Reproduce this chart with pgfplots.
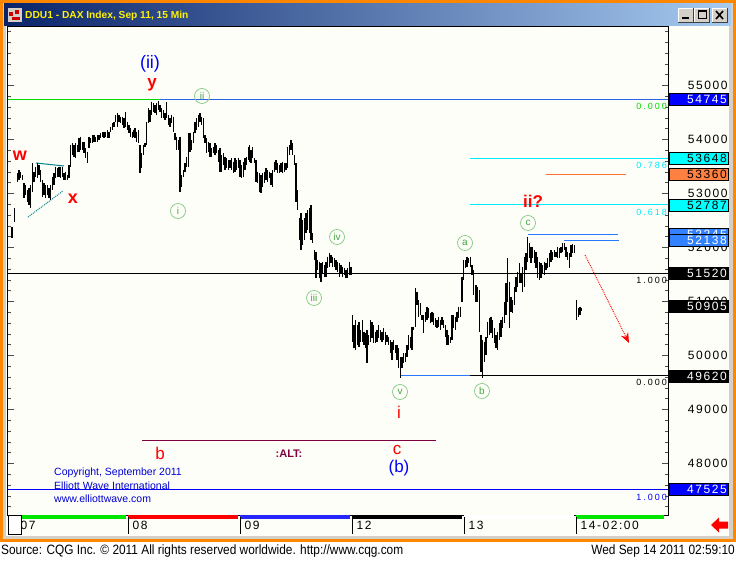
\documentclass[border=0pt]{standalone}
\usepackage{pgfplots}
\pgfplotsset{compat=1.18}
\usepackage{pgfplotstable}
\usepackage{fontspec}
\usetikzlibrary{arrows.meta}
\setmainfont{Liberation Sans}
\newfontfamily\pfont[LetterSpace=13]{Liberation Sans}
\newfontfamily\ffont[LetterSpace=22]{Liberation Sans}
\newfontfamily\nfont[FakeStretch=0.88]{Liberation Sans}

\definecolor{plotbg}{RGB}{254,254,248}
\definecolor{frameorange}{RGB}{255,135,0}
\definecolor{wingray}{RGB}{212,208,200}
\definecolor{tbdark}{RGB}{10,36,106}
\definecolor{tblight}{RGB}{166,202,240}
\definecolor{fibcyan}{RGB}{0,235,255}
\definecolor{boxcyan}{RGB}{0,255,255}
\definecolor{lvlblue}{RGB}{40,120,255}
\definecolor{topblue}{RGB}{40,100,230}
\definecolor{boxblue}{RGB}{50,130,255}
\definecolor{lvlorange}{RGB}{255,110,50}
\definecolor{boxorange}{RGB}{255,128,64}
\definecolor{wavegreen}{RGB}{70,165,70}
\definecolor{circgreen}{RGB}{130,200,130}
\definecolor{altmaroon}{RGB}{128,0,64}
\definecolor{cpblue}{RGB}{0,0,210}
\definecolor{triteal}{RGB}{0,130,140}
\definecolor{fibgreen}{RGB}{0,220,0}

% 15 min bars: time position, high, low
\pgfplotstableread{
x hi lo
12 52386 52170
14.7 52725 52478
17.3 53373 53219
19 53435 53250
20.7 53404 53281
22.3 53343 53250
24 53188 52910
25.7 53157 52972
27.3 53065 52849
29 53096 52787
30.7 53157 52725
32.3 53559 53034
34 53404 53219
35.7 53497 53312
37.3 53559 53281
39 53528 53343
40.7 53435 53219
42.3 53250 52941
44 53188 52972
45.7 53157 52910
47.3 53157 52972
49 53096 52910
50.7 53157 52880
52.3 53312 53065
54 53373 53157
55.7 53497 53281
57.3 53466 53312
59 53497 53312
60.7 53497 53281
62.3 53497 53312
64 53373 53250
65.7 53404 53250
67.3 53343 53250
69 53528 53281
70.7 53898 53497
72.3 53929 53713
74 53898 53682
75.7 53929 53651
77.3 53898 53775
79 54022 53775
80.7 54052 53805
82.3 53960 53805
84 53960 53744
85.7 53836 53651
87.3 53775 53559
89 54052 53836
90.7 54022 53929
92.3 54083 53929
94 54083 53960
95.7 54052 53960
97.3 54083 53960
99 54083 53991
100.7 54114 54022
102.3 54145 54052
104 54145 54022
105.7 54145 54052
107.3 54176 54022
109 54145 54022
110.7 54238 54145
112.3 54299 54176
114 54330 54238
115.7 54454 54330
117.3 54485 54238
119 54454 54330
120.7 54423 54299
122.3 54423 54268
124 54392 54207
125.7 54515 54238
127.3 54330 54176
129 54268 54114
130.7 54207 54052
132.3 54145 54022
133.3 54176 54052
135 54207 54022
136.7 54145 53960
138.3 54176 53929
140 53898 53373
141.7 53744 53466
143.3 53898 53713
145 53929 53867
146.7 54330 53898
148.3 54577 54299
150 54546 54330
151.7 54701 54454
153.3 54670 54515
155 54639 54485
156.7 54670 54454
158.3 54713 54546
160 54639 54515
161.7 54577 54392
163.3 54546 54392
165 54485 54361
166.7 54688 54392
168.3 54454 54268
170 54392 54238
171.7 54454 54299
173.3 54423 54145
175 54114 53991
176.7 54052 53805
178.3 53991 53805
180 54052 53034
181.7 53343 53126
183.3 53435 53312
185 53559 53404
186.7 53682 53497
188.3 54114 53497
190 54114 53775
191.7 53991 53805
193.3 54145 53929
195 54330 54114
196.7 54392 54176
198.3 54454 54238
200 54485 54330
201.7 54423 54268
203.3 54392 54022
205 54083 53929
206.7 54022 53744
208.3 53960 53775
210 53929 53682
211.7 53836 53682
213.3 53867 53744
215 53929 53713
216.7 53898 53744
218.3 53805 53590
220 53836 53404
221.7 53713 53404
223.3 53744 53528
225 53682 53435
226.7 53651 53466
228.3 53620 53435
230 53620 53466
231.7 53651 53435
233.3 53590 53373
235 53651 53404
236.7 53620 53435
238.3 53651 53466
240 53620 53312
241.7 53528 53281
243.3 53590 53312
245 53651 53435
246.7 53682 53528
248.3 53867 53620
249.3 53897 53589
251 53805 53558
252.7 53866 53650
254.3 53650 53558
256 53619 53218
257.7 53403 53187
259.3 53373 53033
261 53342 53002
262.7 53373 53126
264.3 53403 53187
266 53465 53249
267.7 53434 53218
269.3 53403 53280
271 53373 53156
272.7 53434 53126
274.3 53589 53403
276 53619 53434
277.7 53558 53373
279.3 53527 53373
281 53558 53403
282.7 53589 53373
284.3 53558 53403
286 53558 53434
287.7 53866 53465
289.3 53897 53712
291 53990 53805
292.7 53928 53712
294.3 53712 53527
296 53558 52848
297.7 53064 52694
299.3 52539 52138
301 52632 51953
302.7 52508 52045
304.3 52539 52138
306 52632 52261
307.7 52694 52323
309.3 52724 52261
311 52786 52138
312.7 52261 52076
314.3 51953 51768
316 51922 51428
317.7 51768 51582
319.3 51737 51428
321 51706 51366
322.7 51737 51521
324.3 51675 51459
326 51737 51459
327.7 51829 51613
329.3 51891 51644
331 51860 51706
332.7 51829 51644
334.3 51798 51644
336 51768 51582
337.7 51737 51552
339.3 51706 51459
341 51675 51521
342.7 51644 51459
344.3 51613 51490
346 51582 51428
347.7 51613 51428
349.3 51737 51490
351 51644 51490
352.3 50749 50255
354 50564 50132
355.7 50657 50101
357.3 50564 50194
359 50626 50163
360.7 50472 50255
362.3 50657 50255
364 50441 50194
365.7 50410 50132
367 50472 49854
368.7 50379 50194
370.3 50657 50255
372 50626 50317
373.7 50564 50225
375.3 50441 50225
377 50472 50255
378.7 50564 50317
380.3 50472 50286
382 50441 50255
383.7 50502 50286
385.3 50441 50194
387 50379 50255
388.7 50348 50194
390.3 50286 50039
392 50255 49916
393.7 50286 50101
395.3 50194 50039
397 50194 49916
398.7 50132 49762
400.3 49977 49577
402 49977 49762
403.7 50039 49854
405.3 50039 49885
407 50194 49977
408.7 50379 50101
410.3 50348 50132
412 50533 50101
413.7 50533 50472
415.3 51243 50533
417 51181 50934
418.7 51027 50718
420.3 50965 50749
422 50749 50657
423.7 50749 50410
425.3 50811 50626
427 50904 50657
428.7 50873 50688
430.3 50780 50595
432 50811 50626
433.7 50780 50564
435.3 50688 50533
437 50657 50502
438.7 50718 50533
440.3 50657 50472
442 50718 50564
443.7 50657 50502
445.3 50564 50348
447 50472 50194
448.7 50379 50194
450.3 50348 50225
452 50749 50286
453.7 50749 50502
455.3 50718 50472
457 50811 50626
458.7 50904 50688
460.3 50904 50718
462 51459 50996
463.7 51768 51397
465.3 51768 51613
467 51830 51644
468.7 51799 51706
470.3 51830 51644
472 51675 51490
473.7 51583 51120
476 51305 50996
477.7 51274 50996
479.3 51212 50441
481 50379 49700
482.7 50286 49576
484.3 50255 49885
486 50348 50009
487.7 50626 50317
489.3 50688 50379
491 50718 50410
492.7 50657 50317
494.3 50502 50225
496 50379 50132
497.7 50441 50101
499.3 50595 50286
501 50657 50348
502.7 50718 50502
504.3 50996 50595
506 51336 50749
507.7 51799 50996
509.3 51367 50502
511 51089 50811
512.7 51027 50780
514.3 51274 50934
516 51459 51181
517.7 51552 51274
519.3 51706 51336
521 51521 51336
522.7 51644 51181
524.3 51830 51274
526 51891 51583
527.7 52200 51737
529.3 52077 51799
531 52015 51706
532.7 52015 51799
534.3 51953 51706
536 51922 51614
537.7 51830 51428
539.3 51737 51398
541 51706 51428
542.7 51675 51521
544.3 51737 51490
546 51706 51583
547.7 51799 51614
549.3 51891 51644
551 51953 51737
552.7 51922 51768
554.3 51953 51830
556 51922 51830
557.7 52015 51799
559.3 51984 51799
561 52015 51891
562.7 52077 51922
564.3 52077 51953
566 52015 51830
567.7 51922 51768
569.3 51891 51614
571 52046 51830
572.7 52058 51891
574.3 52046 51891
576.7 51027 50657
578.3 50873 50718
580 50904 50749
581.7 50885 50823
}\ohlc

\begin{document}
\begin{tikzpicture}[x=1pt,y=1pt]
\useasboundingbox (0,0) rectangle (736,560);
% window frame, drawn in screen pixels (y downward)
\begin{scope}[y=-1pt, yshift=560pt]
\fill[white] (0,0) rectangle (736,560);
\fill[frameorange] (0,0) rectangle (736,542);
\fill[wingray] (3,3) rectangle (733,539);
\shade[left color=tbdark, right color=tblight] (4,4) rectangle (731,26);
\fill[plotbg] (6,26) rectangle (729,536);
\fill[wingray] (8,8) rectangle (22,22);
\fill[red!80!black] (9,12) rectangle (13,16);
\fill[red!80!black] (15,10) rectangle (19,14);
\fill[red!80!black] (12,17) rectangle (20,20);
\node[anchor=west, text=yellow, inner sep=0pt,
  font=\bfseries\fontsize{10.2}{12}\selectfont] at (25,15.5) {DDU1 - DAX Index, Sep 11, 15 Min};
\foreach \bx in {678,694,712} {
  \fill[wingray] (\bx,8) rectangle ++(15,14);
  \draw[white] (\bx,22) -- (\bx,8) -- (\bx+15,8);
  \draw[black!75] (\bx,22) -- (\bx+15,22) -- (\bx+15,8);
}
\draw[line width=2pt] (682,18.5) -- (689,18.5);
\draw[line width=1pt] (698,11) rectangle (706,19);
\draw[line width=2pt] (698,11.5) -- (706,11.5);
\draw[line width=1.6pt] (716,11) -- (723,19) (716,19) -- (723,11);
\end{scope}

\begin{axis}[
  at={(8pt,45pt)}, anchor=south west,
  width=660pt, height=488pt, scale only axis,
  xmin=8, xmax=668, ymin=47045, ymax=56083,
  axis background/.style={fill=plotbg},
  axis line style={black, line width=1pt},
  xtick={16,128,240,352,464,576},
  xticklabels={07,08,09,12,13,14-02:00},
  xtick style={draw=none},
  xticklabel style={anchor=north west, xshift=1pt, yshift=-3pt,
    font=\pfont\fontsize{12}{14}\selectfont},
  ytick={48000,49000,...,55000},
  minor ytick={47200,47400,...,56000},
  scaled y ticks=false,
  yticklabel pos=right,
  tick align=inside,
  major tick length=6pt, minor tick length=3pt,
  ytick style={black!70, line width=0.5pt},
  yticklabel style={anchor=east, xshift=63pt,
    font=\pfont\fontsize{12}{14}\selectfont,
    /pgf/number format/fixed,
    /pgf/number format/1000 sep={},
    /pgf/number format/assume math mode=true},
  clip=true,
]
% level lines
\draw[fibgreen, line width=1pt] (axis cs:8,54745) -- (axis cs:160,54745);
\draw[topblue, line width=1pt] (axis cs:160,54745) -- (axis cs:668,54745);
\draw[fibcyan, line width=1pt] (axis cs:470,53648) -- (axis cs:668,53648);
\draw[fibcyan, line width=1pt] (axis cs:470,52787) -- (axis cs:668,52787);
\draw[lvlorange, line width=1pt] (axis cs:546,53360) -- (axis cs:626,53360);
\draw[lvlblue, line width=1pt] (axis cs:528,52245) -- (axis cs:618,52245);
\draw[lvlblue, line width=1pt] (axis cs:564,52138) -- (axis cs:619,52138);
\draw[black, line width=1pt] (axis cs:8,51520) -- (axis cs:668,51520);
\draw[lvlblue, line width=1pt] (axis cs:400,49620) -- (axis cs:470,49620);
\draw[black, line width=1pt] (axis cs:470,49620) -- (axis cs:668,49620);
\draw[blue, line width=1pt] (axis cs:8,47525) -- (axis cs:668,47525);
\draw[altmaroon, line width=1pt] (axis cs:142,48434) -- (axis cs:436,48434);
\draw[triteal, line width=1pt] (axis cs:36,53564) -- (axis cs:64,53509);
\draw[triteal, densely dotted, line width=1pt] (axis cs:28,52564) -- (axis cs:63,53046);

% price bars (high-low)
\addplot[draw=none, forget plot,
  error bars/.cd, y dir=minus, y explicit, error mark=none,
  error bar style={draw=black, solid, line width=1.1pt}]
  table[x=x, y=hi, y error minus expr=\thisrow{hi}-\thisrow{lo}] {\ohlc};

% wave labels
\tikzset{circ/.style={circle, draw=circgreen, text=wavegreen, line width=0.7pt,
  inner sep=0pt, minimum size=15pt, font=\fontsize{10}{10}\selectfont}}
\node[circ] at (axis cs:202,54805) {ii};
\node[circ] at (axis cs:178,52675) {i};
\node[circ] at (axis cs:337,52194) {iv};
\node[circ] at (axis cs:314,51064) {iii};
\node[circ] at (axis cs:400,49323) {v};
\node[circ] at (axis cs:465,52083) {a};
\node[circ] at (axis cs:482,49342) {b};
\node[circ] at (axis cs:528,52453) {c};
\node[text=red, font=\bfseries\fontsize{18}{18}\selectfont] at (axis cs:20,53694) {w};
\node[text=red, font=\bfseries\fontsize{18}{18}\selectfont] at (axis cs:73,52897) {x};
\node[text=blue, font=\fontsize{18}{18}\selectfont] at (axis cs:150,55398) {(ii)};
\node[text=red, font=\bfseries\fontsize{17}{17}\selectfont] at (axis cs:152,55009) {y};
\node[text=red, font=\bfseries\fontsize{17}{17}\selectfont] at (axis cs:533,52860) {ii?};
\node[text=red, font=\fontsize{17}{17}\selectfont] at (axis cs:399,48953) {i};
\node[text=red, font=\fontsize{17}{17}\selectfont] at (axis cs:160,48194) {b};
\node[text=altmaroon, font=\bfseries\fontsize{11}{11}\selectfont] at (axis cs:289,48175) {:ALT:};
\node[text=red, font=\fontsize{17}{17}\selectfont] at (axis cs:397,48249) {c};
\node[text=blue, font=\fontsize{17}{17}\selectfont] at (axis cs:399,47916) {(b)};
\node[anchor=west, text=cpblue, inner sep=0pt, font=\fontsize{10.5}{11}\selectfont] at (axis cs:54,47823) {Copyright, September 2011};
\node[anchor=west, text=cpblue, inner sep=0pt, font=\fontsize{10.5}{11}\selectfont] at (axis cs:54,47583) {Elliott Wave International};
\node[anchor=west, text=cpblue, inner sep=0pt, font=\fontsize{10.5}{11}\selectfont] at (axis cs:54,47342) {www.elliottwave.com};
\draw[red, densely dotted, line width=0.9pt, -{Stealth[length=10pt, width=8pt]}]
  (axis cs:585,51860) -- (axis cs:629,50231);
\end{axis}

\begin{scope}[y=-1pt, yshift=560pt]
% fibonacci ratio labels
\begin{scope}[every node/.style={anchor=east, inner sep=0pt, font=\ffont\fontsize{9}{9}\selectfont}]
\node[text=fibgreen] at (667,106) {0.000};
\node[text=fibcyan] at (667,165) {0.786};
\node[text=fibcyan] at (667,212.5) {0.618};
\node[text=black] at (667,280) {1.000};
\node[text=black] at (667,382.5) {0.000};
\node[text=blue] at (667,497) {1.000};
\end{scope}

% price boxes on the scale
\newcommand\pbox[4]{\node[anchor=west, fill=#2, draw=black, line width=0.6pt, text=#3,
  text width=56pt, align=right, inner xsep=1.5pt, inner ysep=0pt, minimum height=12pt,
  font=\pfont\fontsize{12}{12}\selectfont] at (669,#1) {#4};}
\pbox{99.2}{blue}{white}{54745}
\pbox{158.5}{boxcyan}{black}{53648}
\pbox{174.0}{boxorange}{black}{53360}
\pbox{205.0}{boxcyan}{black}{52787}
\pbox{234.2}{boxblue}{white}{52245}
\pbox{240.0}{boxblue}{white}{52138}
\pbox{273.4}{black}{white}{51520}
\pbox{306.6}{black}{white}{50905}
\pbox{376.0}{black}{white}{49620}
\pbox{489.1}{blue}{white}{47525}

% session strip under the bars
\fill[green!90!black] (16,514.5) rectangle (126,519);
\fill[red] (128,514.5) rectangle (238,519);
\fill[blue!85!white] (240,514.5) rectangle (350,519);
\fill[black] (352,514.5) rectangle (462,519);
\fill[white] (464,514.5) rectangle (574,519);
\fill[green!90!black] (576,514.5) rectangle (664,519);
\foreach \d in {128,240,352,464,576} \draw[black, line width=1pt] (\d,517) -- (\d,534);
\draw[black, fill=white, line width=0.8pt] (8,515) rectangle (21,534);
\fill[red] (711,525) -- (719,517.5) -- (719,521.5) -- (728,521.5) -- (728,528.5) -- (719,528.5) -- (719,532.5) -- cycle;

% footer
\node[anchor=west, inner sep=0pt, font=\nfont\fontsize{13.5}{14}\selectfont] at (1,551) {Source: CQG Inc. © 2011 All rights reserved worldwide. http://www.cqg.com};
\node[anchor=east, inner sep=0pt, font=\nfont\fontsize{13.5}{14}\selectfont] at (735,551) {Wed Sep 14 2011 02:59:10};
\end{scope}
\end{tikzpicture}
\end{document}
